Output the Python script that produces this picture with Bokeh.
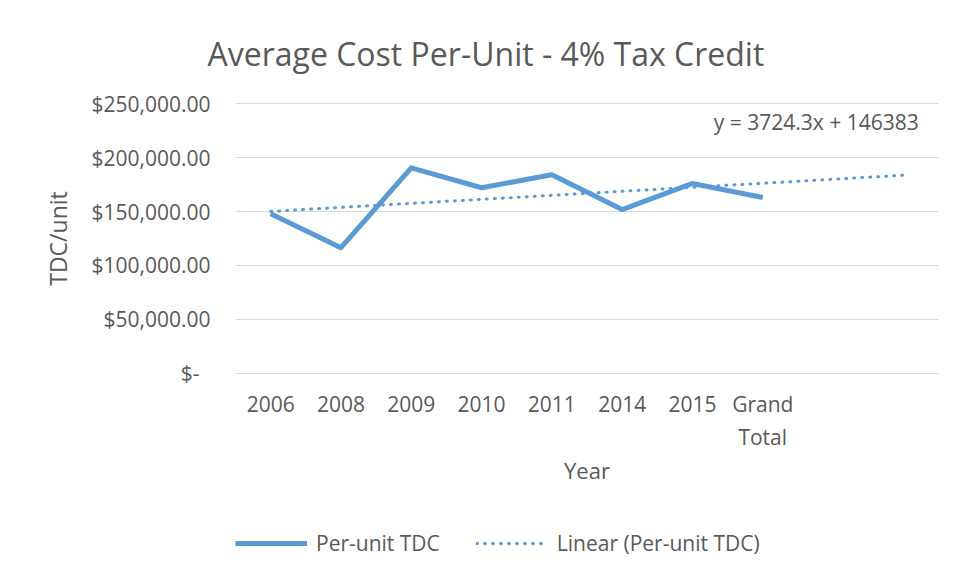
from bokeh.plotting import figure
from bokeh.models import Range1d, FixedTicker, Label, Legend, LegendItem
from bokeh.layouts import column
from bokeh.embed import file_html
from bokeh.resources import INLINE

# ---- data ----
categories = ["2006", "2008", "2009", "2010", "2011", "2014", "2015", "Grand\nTotal"]
per_unit_tdc = [148000, 116500, 190500, 172000, 184000, 151800, 176000, 163000]
trend_slope = 3724.3
trend_intercept = 146383
trend_periods = 10          # trendline extended two periods forward
y_ticks = [0, 50000, 100000, 150000, 200000, 250000]
y_tick_labels = ["$-\u00a0\u00a0", "$50,000.00", "$100,000.00", "$150,000.00",
                 "$200,000.00", "$250,000.00"]
equation_text = "y = 3724.3x + 146383"
series_names = ["Per-unit TDC", "Linear (Per-unit TDC)"]

FONT = "Open Sans"
TXT = "#595959"
BLUE = "#5b9bd5"
GRID = "#d9d9d9"

xs = list(range(1, len(categories) + 1))
trend_x = [1, trend_periods]
trend_y = [trend_slope * x + trend_intercept for x in trend_x]

MAIN_STYLE = dict(line_color=BLUE, line_width=5, line_join="round")
TREND_STYLE = dict(line_color=BLUE, line_width=3, line_dash="1 7", line_cap="round")

# ---------------- main chart ----------------
p = figure(width=955, height=500, output_backend="svg", toolbar_location=None,
           x_range=Range1d(0.5, trend_periods + 0.5), y_range=Range1d(-1000, 251000),
           min_border_left=235, min_border_right=17, min_border_top=102,
           min_border_bottom=126, title="Average Cost Per-Unit - 4% Tax Credit")
p.outline_line_color = None
p.background_fill_color = "white"
p.border_fill_color = "white"

p.title.align = "left"
p.title.text_font = FONT
p.title.text_font_size = "32px"
p.title.text_font_style = "normal"
p.title.text_color = TXT
p.title.standoff = 55
p.title.offset = -28

p.line(xs, per_unit_tdc, **MAIN_STYLE)
p.line(trend_x, trend_y, **TREND_STYLE)

p.xaxis.ticker = FixedTicker(ticks=xs)
p.xaxis.major_label_overrides = {x: c for x, c in zip(xs, categories)}
p.yaxis.ticker = FixedTicker(ticks=y_ticks)
p.yaxis.major_label_overrides = {t: l for t, l in zip(y_ticks, y_tick_labels)}
for ax in (p.xaxis, p.yaxis):
    ax.axis_line_color = None
    ax.major_tick_line_color = None
    ax.minor_tick_line_color = None
    ax.major_tick_out = 0
    ax.major_tick_in = 0
    ax.minor_tick_out = 0
    ax.minor_tick_in = 0
    ax.major_label_text_font = FONT
    ax.major_label_text_font_size = "21px"
    ax.major_label_text_color = TXT
    ax.axis_label_text_font = FONT
    ax.axis_label_text_font_style = "normal"
    ax.axis_label_text_color = TXT
p.xaxis.axis_label = "Year"
p.yaxis.axis_label = "TDC/unit"
p.xaxis.axis_label_text_font_size = "22px"
p.yaxis.axis_label_text_font_size = "23px"
p.xaxis.major_label_standoff = 15
p.yaxis.major_label_standoff = 25
p.xaxis.axis_label_standoff = 1
p.yaxis.axis_label_standoff = 14

p.xgrid.grid_line_color = None
p.ygrid.grid_line_color = GRID
p.ygrid.grid_line_width = 1

p.add_layout(Label(x=trend_periods + 0.22, y=232500, text=equation_text,
                   text_align="right", text_baseline="middle", text_font=FONT,
                   text_font_size="21px", text_color=TXT))

# ---------------- legend strip ----------------
# same series drawn again (outside the visible range) only to feed the legend keys
lg = figure(width=955, height=77, output_backend="svg", toolbar_location=None,
            x_range=Range1d(100, 101), y_range=Range1d(0, 1),
            min_border_left=0, min_border_right=0, min_border_top=0, min_border_bottom=0)
lg.axis.visible = False
lg.grid.visible = False
lg.outline_line_color = None
lg.background_fill_color = "white"
lg.border_fill_color = "white"
k_main = lg.line(xs, per_unit_tdc, **MAIN_STYLE)
k_trend = lg.line(trend_x, trend_y, **TREND_STYLE)

legend = Legend(items=[LegendItem(label=series_names[0], renderers=[k_main]),
                       LegendItem(label=series_names[1], renderers=[k_trend])],
                orientation="horizontal", location=(0, 20),
                label_text_font=FONT, label_text_font_size="21px", label_text_color=TXT,
                glyph_width=72, glyph_height=24, label_standoff=9, spacing=36,
                border_line_color=None, background_fill_alpha=0, margin=0, padding=0)
lg.add_layout(legend, "center")

layout = column(p, lg, spacing=0)
open("out.html", "w").write(file_html(layout, INLINE))
